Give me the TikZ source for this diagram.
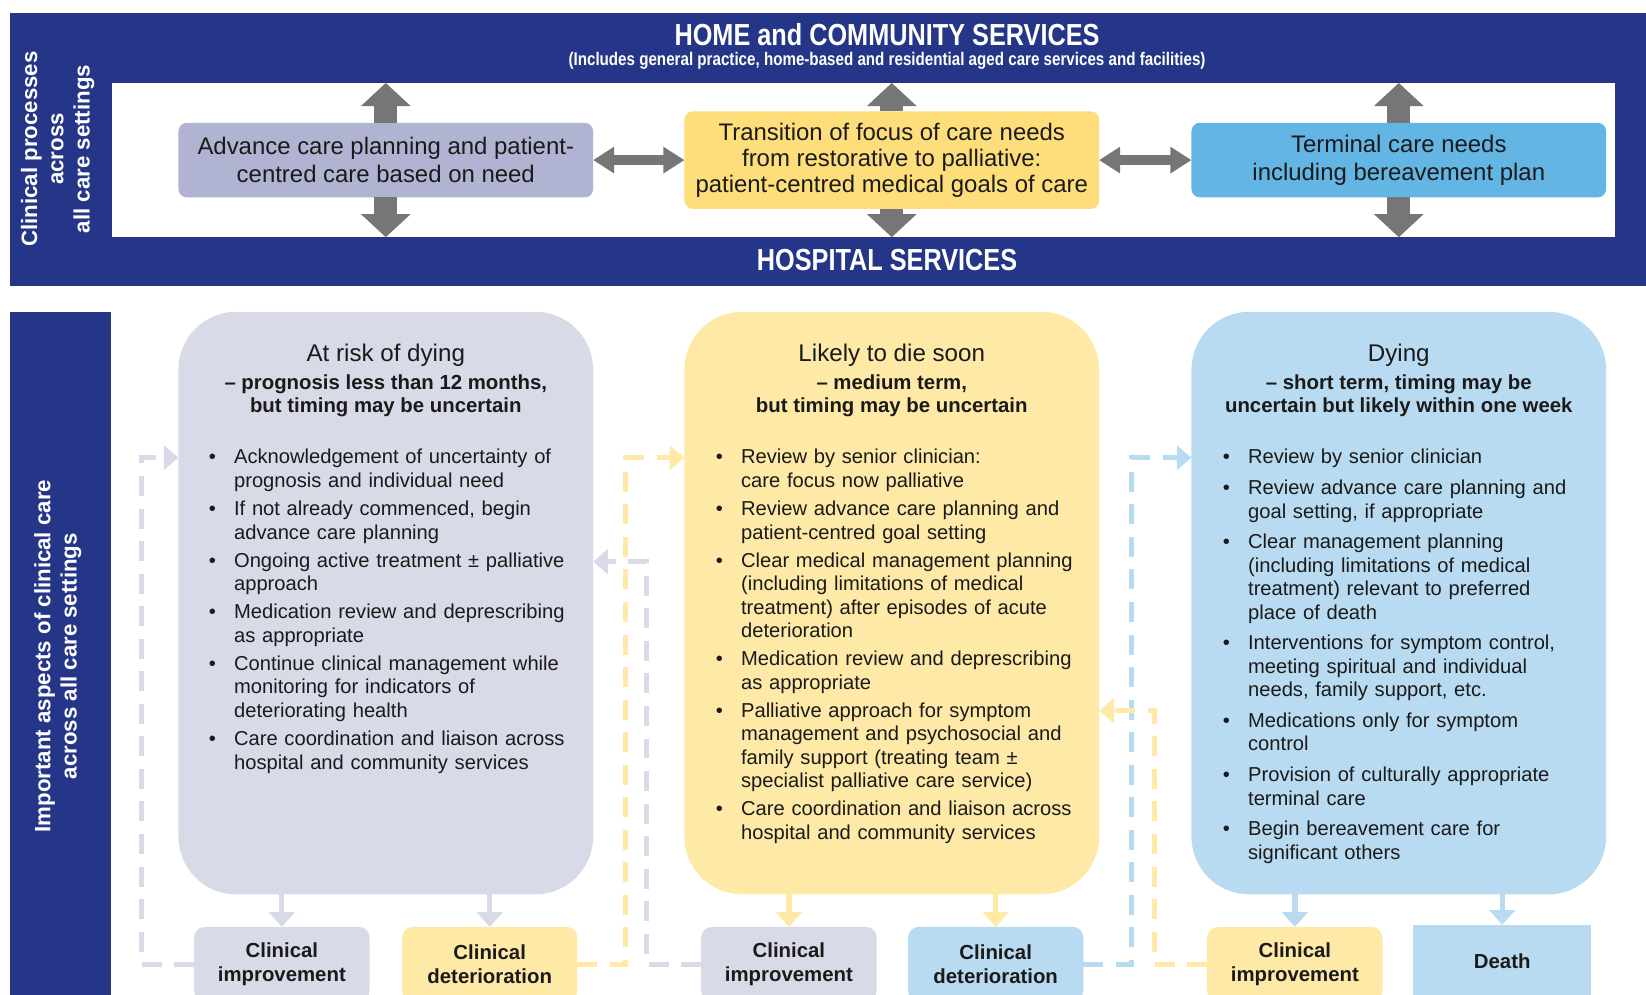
\documentclass[tikz,border=0pt]{standalone}
\usepackage{fontspec}
\setmainfont{Liberation Sans}
\newfontfamily\narrowfont[FakeStretch=0.83]{Liberation Sans}
\usetikzlibrary{arrows.meta}
\definecolor{navy}{RGB}{37,54,137}
\definecolor{lavT}{RGB}{177,179,211}
\definecolor{yelT}{RGB}{254,222,122}
\definecolor{bluT}{RGB}{99,181,228}
\definecolor{lavL}{RGB}{217,218,232}
\definecolor{yelL}{RGB}{255,233,166}
\definecolor{bluL}{RGB}{185,219,242}
\definecolor{arrg}{RGB}{118,118,118}
\definecolor{txt}{RGB}{26,26,26}
\newcommand{\firstbul}{\hangindent=12pt\hangafter=1\hbox to 12pt{\textbullet\hfil}}
\newcommand{\bul}{\par\hangindent=12pt\hangafter=1\noindent\hbox to 12pt{\textbullet\hfil}}
\begin{document}
\begin{tikzpicture}[x=0.5pt,y=-0.5pt,
  every node/.style={inner sep=0pt,outer sep=0pt},
  whitetxt/.style={text=white},
  topbox/.style={rounded corners=4pt, minimum width=197.5pt, align=center, text=txt},
  bigbox/.style={rounded corners=27.5pt, minimum width=197.5pt, minimum height=277.5pt},
  ttl/.style={text=txt, font=\fontsize{11.5}{13}\selectfont},
  subttl/.style={text=txt, align=center, font=\bfseries\fontsize{9.7}{10.5}\selectfont},
  lst/.style={anchor=base west, text width=200pt, text=txt, font=\fontsize{9.6}{11.15}\selectfont,
     execute at begin node={\setlength{\parskip}{#1}\setlength{\parindent}{0pt}}},
  smallbox/.style={rounded corners=5pt, minimum width=83.5pt, minimum height=35.5pt, align=center, text=txt,
     font=\bfseries\fontsize{9.7}{11.5}\selectfont},
  fat/.style={draw=arrg, line width=11pt, -{Triangle[width=23pt,length=11pt]}},
  hfat/.style={draw=arrg, line width=5pt, {Triangle[width=12pt,length=10pt]}-{Triangle[width=12pt,length=10pt]}},
  downarr/.style={draw=#1, line width=2.5pt, -{Triangle[width=12pt,length=7pt]}},
  dasharr/.style={draw=#1, line width=2.5pt, dash pattern=on 9.5pt off 6pt, -{Triangle[width=11.5pt,length=7pt]}}
]
\useasboundingbox (0,0) rectangle (1568,947);

% ---------- top band ----------
\node[fill=navy, minimum width=779pt, minimum height=130pt, anchor=north west] (band) at (10,12) {};
\node[fill=white, minimum width=715.5pt, minimum height=73.5pt, anchor=north west] (inner) at (107,79) {};
\node[whitetxt, font=\narrowfont\bfseries\fontsize{14.5}{16}\selectfont] (home) at (845,33) {HOME and COMMUNITY SERVICES};
\node[whitetxt, font=\narrowfont\bfseries\fontsize{8.7}{9.5}\selectfont] (incl) at (845,58) {(Includes general practice, home-based and residential aged care services and facilities)};
\node[whitetxt, font=\narrowfont\bfseries\fontsize{14.5}{16}\selectfont] (hosp) at (845,248) {HOSPITAL SERVICES};
\node[whitetxt, rotate=90, align=center, font=\bfseries\fontsize{10.6}{12.5}\selectfont] (cp) at (55,142) {Clinical processes\\across\\all care settings};

\node[topbox, fill=lavT, minimum height=35.5pt, font=\fontsize{11.4}{13.5}\selectfont] (t1) at (367.5,152.5) {Advance care planning and patient-\\centred care based on need};
\node[topbox, fill=yelT, minimum height=46.5pt, font=\fontsize{11.4}{12.3}\selectfont] (t2) at (849.5,152.5) {Transition of focus of care needs\\from restorative to palliative:\\patient-centred medical goals of care};
\node[topbox, fill=bluT, minimum height=35.5pt, font=\fontsize{11.4}{13.5}\selectfont] (t3) at (1332.5,152.5) {Terminal care needs\\including bereavement plan};

\foreach \n in {t1,t2,t3} {
  \draw[fat] (\n.north) -- (\n.north |- inner.north);
  \draw[fat] (\n.south) -- (\n.south |- inner.south);
}
\draw[hfat] (t1.east) -- (t2.west);
\draw[hfat] (t2.east) -- (t3.west);

% ---------- bottom part ----------
\node[fill=navy, minimum width=48pt, minimum height=335pt, anchor=north west] (lbar) at (10,297) {};
\node[whitetxt, rotate=90, align=center, font=\bfseries\fontsize{10.6}{12.5}\selectfont] (imp) at (55,625) {Important aspects of clinical care\\across all care settings};

\node[bigbox, fill=lavL] (bA) at (367.5,574.5) {};
\node[bigbox, fill=yelL] (bB) at (849.5,574.5) {};
\node[bigbox, fill=bluL] (bC) at (1332.5,574.5) {};

\node[ttl] (tA) at (367.5,338) {At risk of dying};
\node[subttl] (sA) at (367.5,377) {– prognosis less than 12 months,\\but timing may be uncertain};
\node[ttl] (tB) at (849.5,338) {Likely to die soon};
\node[subttl] (sB) at (849.5,377) {– medium term,\\but timing may be uncertain};
\node[ttl] (tC) at (1332.5,338) {Dying};
\node[subttl] (sC) at (1332.5,377) {– short term, timing may be\\uncertain but likely within one week};

\node[lst=2.3pt] (lA) at (199,442) {\firstbul Acknowledgement of uncertainty of\newline prognosis and individual need
\bul If not already commenced, begin\newline advance care planning
\bul Ongoing active treatment ± palliative\newline approach
\bul Medication review and deprescribing\newline as appropriate
\bul Continue clinical management while\newline monitoring for indicators of\newline deteriorating health
\bul Care coordination and liaison across\newline hospital and community services\par};

\node[lst=2.3pt] (lB) at (682,442) {\firstbul Review by senior clinician:\newline care focus now palliative
\bul Review advance care planning and\newline patient-centred goal setting
\bul Clear medical management planning\newline (including limitations of medical\newline treatment) after episodes of acute\newline deterioration
\bul Medication review and deprescribing\newline as appropriate
\bul Palliative approach for symptom\newline management and psychosocial and\newline family support (treating team ±\newline specialist palliative care service)
\bul Care coordination and liaison across\newline hospital and community services\par};

\node[lst=3.5pt] (lC) at (1165,442) {\firstbul Review by senior clinician
\bul Review advance care planning and\newline goal setting, if appropriate
\bul Clear management planning\newline (including limitations of medical\newline treatment) relevant to preferred\newline place of death
\bul Interventions for symptom control,\newline meeting spiritual and individual\newline needs, family support, etc.
\bul Medications only for symptom\newline control
\bul Provision of culturally appropriate\newline terminal care
\bul Begin bereavement care for\newline significant others\par};

% small outcome boxes
\node[smallbox, fill=lavL] (a1) at (268.5,918.5) {Clinical\\improvement};
\node[smallbox, fill=yelL] (a2) at (466.5,918.5) {Clinical\\deterioration};
\node[smallbox, fill=lavL] (b1) at (751.5,918.5) {Clinical\\improvement};
\node[smallbox, fill=bluL] (b2) at (948.5,918.5) {Clinical\\deterioration};
\node[smallbox, fill=yelL] (c1) at (1233.5,918.5) {Clinical\\improvement};
\node[smallbox, fill=bluL, rounded corners=0pt, minimum width=85pt, minimum height=35pt] (c2) at (1431,916) {Death};

% down arrows
\draw[downarr=lavL] (bA.south -| a1.north) -- (a1.north);
\draw[downarr=lavL] (bA.south -| a2.north) -- (a2.north);
\draw[downarr=yelL] (bB.south -| b1.north) -- (b1.north);
\draw[downarr=yelL] (bB.south -| b2.north) -- (b2.north);
\draw[downarr=bluL] (bC.south -| c1.north) -- (c1.north);
\draw[downarr=bluL] (bC.south -| c2.north) -- (c2.north);

% dashed feedback connectors
\coordinate (ya) at (0,436);
\coordinate (yb) at (0,535);
\coordinate (yc) at (0,677);
\draw[dasharr=lavL] (a1.west) -| (135,436) -- (bA.west |- ya);
\draw[dasharr=yelL] (a2.east) -| (596,436) -- (bB.west |- ya);
\draw[dasharr=lavL] (b1.west) -| (616,535) -- (bA.east |- yb);
\draw[dasharr=bluL] (b2.east) -| (1078,436) -- (bC.west |- ya);
\draw[dasharr=yelL] (c1.west) -| (1100,677) -- (bB.east |- yc);
\end{tikzpicture}
\end{document}
